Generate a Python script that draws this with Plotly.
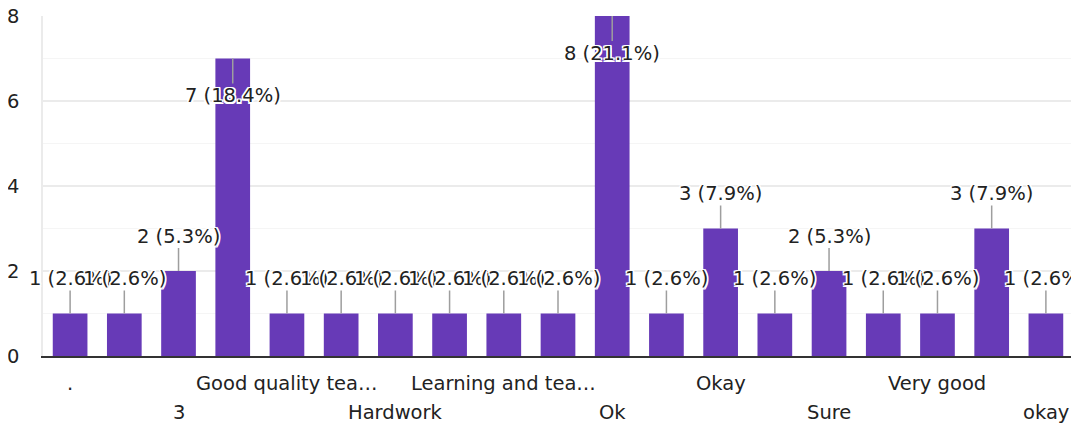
import plotly.graph_objects as go

categories = [".", "1", "3", "Good", "Good quality teaching", "Great", "Hardwork",
              "Helpful", "Learning and teaching", "Nice", "Ok", "Ok.", "Okay",
              "Satisfied", "Sure", "Teaching is good", "Very good", "Yes", "okay"]
counts = [1, 1, 2, 7, 1, 1, 1, 1, 1, 1, 8, 1, 3, 1, 2, 1, 1, 3, 1]
y_ticks = [0, 2, 4, 6, 8]

total = sum(counts)
FONT = "DejaVu Sans"
TXT = "#222222"
FS = 19.5
halo = ("1.5px 1.5px 0px white, -1.5px -1.5px 0px white, 1.5px -1.5px 0px white, "
        "-1.5px 1.5px 0px white, 0px 1.5px 0px white, 0px -1.5px 0px white, "
        "1.5px 0px 0px white, -1.5px 0px 0px white")

def short(s):
    return s if len(s) <= 17 else s[:16] + "\u2026"

fig = go.Figure(go.Bar(
    x=list(range(len(categories))), y=counts,
    marker=dict(color="#673ab7", line=dict(width=0)),
    hovertext=categories, hoverinfo="text+y",
))

ymax = 8
ann = []
for i, v in enumerate(counts):
    label = f"{v} ({v / total * 100:.1f}%)"
    inside = v > ymax - 1.12
    ann.append(dict(
        x=i, y=v, xref="x", yref="y", text=label, showarrow=True,
        arrowhead=0, arrowwidth=1.5, arrowcolor="#9e9e9e",
        ax=0, ay=37 if inside else -35,
        font=dict(family=FONT, size=FS, color=TXT, shadow=halo),
        borderpad=0,
    ))

for i, c in enumerate(categories):
    if i % 2 == 0:
        row = (i // 2) % 2
        ann.append(dict(
            x=i, y=0, xref="x", yref="y", text=short(c), showarrow=False,
            yanchor="middle", yshift=-27 if row == 0 else -56,
            font=dict(family=FONT, size=FS, color=TXT),
        ))

# the page body has an 8px margin, so the figure is sized to the visible area
fig.update_layout(
    width=1071, height=420,
    margin=dict(l=35, r=6, t=7.5, b=72, autoexpand=False),
    paper_bgcolor="white", plot_bgcolor="white",
    bargap=0.36,
    showlegend=False,
    annotations=ann,
    font=dict(family=FONT, size=FS, color=TXT),
    xaxis=dict(range=[-0.5, len(categories) - 0.5], showticklabels=False,
               showgrid=False, zeroline=False, showline=True, automargin=False,
               linecolor="#333333", linewidth=2, ticks="", fixedrange=True),
    yaxis=dict(range=[0, ymax], tickvals=y_ticks, ticktext=[str(t) for t in y_ticks],
               showgrid=True, gridcolor="#ebebeb", gridwidth=1.5, automargin=False,
               minor=dict(dtick=1, showgrid=True, gridcolor="#f5f5f5", gridwidth=1),
               zeroline=False, showline=True, mirror=True, linecolor="#ebebeb",
               linewidth=1.5, ticks="", ticklabelstandoff=18, ticklabeloverflow="allow",
               tickfont=dict(family=FONT, size=FS, color=TXT), fixedrange=True),
)

fig.write_html("out.html")
